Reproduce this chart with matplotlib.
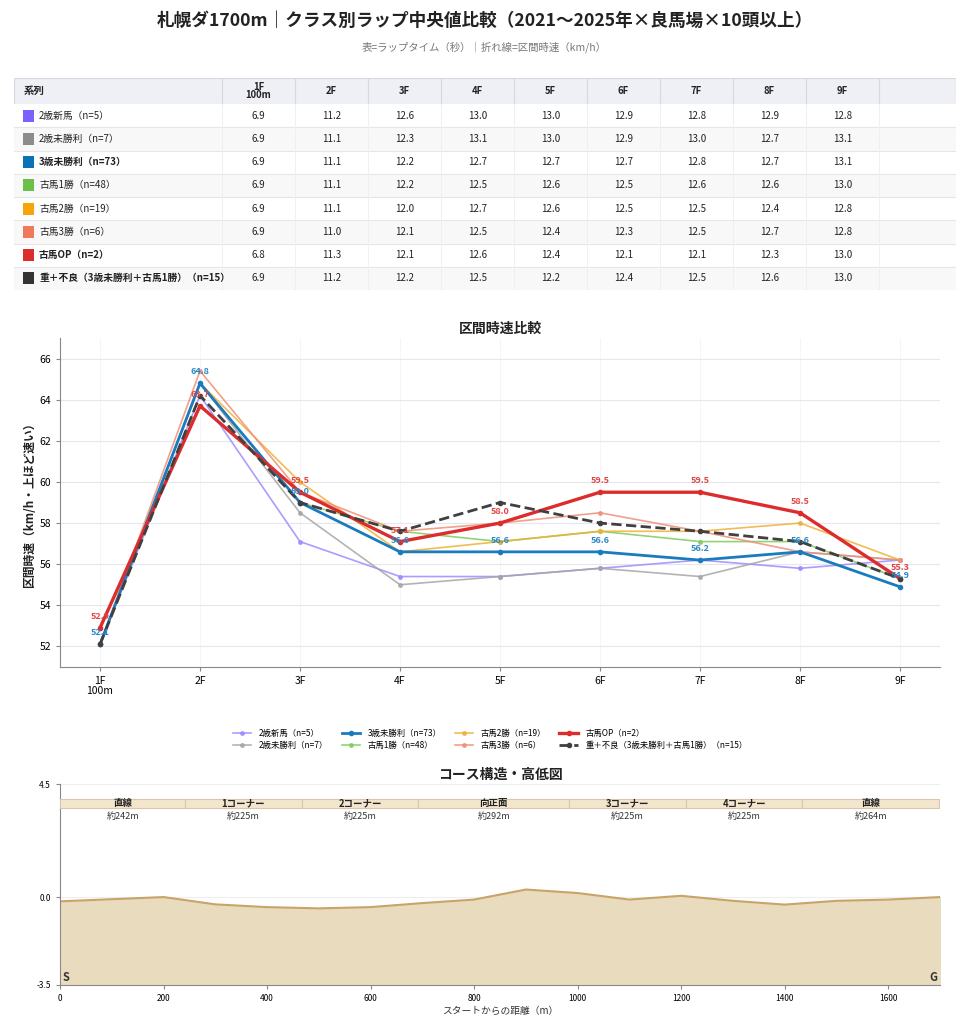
import numpy as np
import matplotlib
matplotlib.use("Agg")
import matplotlib.pyplot as plt
from matplotlib.patches import Rectangle

plt.rcParams['font.family'] = ['Noto Sans CJK JP', 'DejaVu Sans']

# ---- データ ----
series = ["2歳新馬（n=5）", "2歳未勝利（n=7）", "3歳未勝利（n=73）", "古馬1勝（n=48）",
          "古馬2勝（n=19）", "古馬3勝（n=6）", "古馬OP（n=2）",
          "重＋不良（3歳未勝利＋古馬1勝）（n=15）"]
furlongs = ["1F\n100m", "2F", "3F", "4F", "5F", "6F", "7F", "8F", "9F"]

# ラップタイム（秒）
lap_shinba = [6.9, 11.2, 12.6, 13.0, 13.0, 12.9, 12.8, 12.9, 12.8]
lap_2mishori = [6.9, 11.1, 12.3, 13.1, 13.0, 12.9, 13.0, 12.7, 13.1]
lap_3mishori = [6.9, 11.1, 12.2, 12.7, 12.7, 12.7, 12.8, 12.7, 13.1]
lap_1win = [6.9, 11.1, 12.2, 12.5, 12.6, 12.5, 12.6, 12.6, 13.0]
lap_2win = [6.9, 11.1, 12.0, 12.7, 12.6, 12.5, 12.5, 12.4, 12.8]
lap_3win = [6.9, 11.0, 12.1, 12.5, 12.4, 12.3, 12.5, 12.7, 12.8]
lap_op = [6.8, 11.3, 12.1, 12.6, 12.4, 12.1, 12.1, 12.3, 13.0]
lap_heavy = [6.9, 11.2, 12.2, 12.5, 12.2, 12.4, 12.5, 12.6, 13.0]

# 区間時速（km/h）
spd_shinba = [52.1, 64.2, 57.1, 55.4, 55.4, 55.8, 56.2, 55.8, 56.2]
spd_2mishori = [52.1, 64.8, 58.5, 55.0, 55.4, 55.8, 55.4, 56.6, 56.2]
spd_3mishori = [52.1, 64.8, 59.0, 56.6, 56.6, 56.6, 56.2, 56.6, 54.9]
spd_1win = [52.1, 64.8, 59.0, 57.6, 57.1, 57.6, 57.1, 57.1, 55.3]
spd_2win = [52.1, 64.8, 60.0, 56.6, 57.1, 57.6, 57.6, 58.0, 56.2]
spd_3win = [52.1, 65.4, 59.5, 57.6, 58.0, 58.5, 57.6, 56.6, 56.2]
spd_op = [52.9, 63.7, 59.5, 57.1, 58.0, 59.5, 59.5, 58.5, 55.3]
spd_heavy = [52.1, 64.2, 59.0, 57.6, 59.0, 58.0, 57.6, 57.1, 55.3]

laps = [lap_shinba, lap_2mishori, lap_3mishori, lap_1win, lap_2win, lap_3win, lap_op, lap_heavy]
speeds = [spd_shinba, spd_2mishori, spd_3mishori, spd_1win, spd_2win, spd_3win, spd_op, spd_heavy]

# コース
section_names = ["直線", "1コーナー", "2コーナー", "向正面", "3コーナー", "4コーナー", "直線"]
section_lengths = [242, 225, 225, 292, 225, 225, 264]
elev_dist = [0, 200, 300, 400, 500, 600, 700, 800, 900, 1000, 1100, 1200, 1300, 1400, 1500, 1600, 1700]
elev_h = [-0.17, 0.0, -0.29, -0.4, -0.45, -0.4, -0.24, -0.1, 0.3, 0.16, -0.1, 0.05, -0.15, -0.3, -0.15, -0.1, 0.0]

# スタイル
square_colors = ["#7b61ff", "#8c8c8c", "#0b72b5", "#6cc04a", "#f5a40a", "#ee7a5a", "#dd2c2c", "#333333"]
line_colors = ["#9b8cff", "#a6a6a6", "#1a7bbf", "#7fcc5c", "#f0b035", "#f08f77", "#dd2c2c", "#404040"]
bold_rows = [2, 6, 7]

fig = plt.figure(figsize=(9.69, 10.24), dpi=100)
fig.text(0.5, 0.980, "札幌ダ1700m｜クラス別ラップ中央値比較（2021～2025年×良馬場×10頭以上）",
         ha="center", va="center", fontsize=12.7, fontweight="bold", color="#222222")
fig.text(0.5, 0.954, "表=ラップタイム（秒）｜折れ線=区間時速（km/h）",
         ha="center", va="center", fontsize=7.5, color="#777777")

# ---- 表 ----
tax = fig.add_axes([14 / 969, (1024 - 290) / 1024, 942 / 969, 212 / 1024])
col_w = [208] + [73] * 9 + [77]
col_x = np.concatenate([[0], np.cumsum(col_w)])
head_h = 26
row_h = (212 - head_h) / len(series)
tax.set_xlim(0, col_x[-1])
tax.set_ylim(212, 0)
tax.axis("off")

tax.add_patch(Rectangle((0, 0), col_x[-1], head_h, facecolor="#eef0f5", edgecolor="#d5d8e0", lw=0.8))
for c in range(1, len(col_x) - 1):
    tax.plot([col_x[c], col_x[c]], [0, head_h], color="#d5d8e0", lw=0.8)
tax.text(10, head_h / 2, "系列", ha="left", va="center", fontsize=7.5, fontweight="bold", color="#222222")
for j, f in enumerate(furlongs):
    cx = (col_x[j + 1] + col_x[j + 2]) / 2
    tax.text(cx, head_h / 2, f, ha="center", va="center", fontsize=6.8, fontweight="bold",
             color="#222222", linespacing=0.85)

for i, name in enumerate(series):
    y0 = head_h + i * row_h
    fc = "#ffffff" if i % 2 == 0 else "#f8f8f8"
    tax.add_patch(Rectangle((0, y0), col_x[-1], row_h, facecolor=fc, edgecolor="none"))
    tax.plot([0, col_x[-1]], [y0 + row_h, y0 + row_h], color="#e6e6e6", lw=0.8)
    for c in range(1, len(col_x) - 1):
        tax.plot([col_x[c], col_x[c]], [y0, y0 + row_h], color="#eeeeee", lw=0.6)
    tax.add_patch(Rectangle((9, y0 + row_h / 2 - 6), 11, 12, facecolor=square_colors[i], edgecolor="none"))
    fw = "bold" if i in bold_rows else "normal"
    tax.text(25, y0 + row_h / 2, name, ha="left", va="center", fontsize=7, fontweight=fw, color="#222222")
    for j, v in enumerate(laps[i]):
        cx = (col_x[j + 1] + col_x[j + 2]) / 2
        tax.text(cx, y0 + row_h / 2, f"{v:.1f}", ha="center", va="center", fontsize=7, color="#222222")

# ---- 折れ線 ----
ax = fig.add_axes([60 / 969, (1024 - 667) / 1024, 880 / 969, 329 / 1024])
x = np.arange(len(furlongs))
handles = []
for i, name in enumerate(series):
    hi = i in bold_rows
    lw = 2.0 if hi else 1.2
    if i == 6:
        lw = 2.4
    alpha = 1.0 if hi else 0.85
    ls = "--" if i == 7 else "-"
    z = 4 if hi else 2
    h, = ax.plot(x, speeds[i], ls, color=line_colors[i], lw=lw, alpha=alpha, marker="o",
                 markersize=3 if hi else 2.5, label=name, zorder=z)
    handles.append(h)

for i, col in [(2, "#2a88c8"), (6, "#e04545")]:
    for xi, v in zip(x, speeds[i]):
        ax.annotate(f"{v:.1f}", (xi, v), xytext=(0, 5), textcoords="offset points",
                    ha="center", va="bottom", fontsize=6.5, fontweight="bold", color=col, zorder=6)

ax.set_xlim(-0.4, 8.4)
ax.set_ylim(51, 67)
ax.set_yticks(np.arange(52, 67, 2))
ax.set_xticks(x)
ax.set_xticklabels(furlongs, fontsize=7.5, linespacing=1.0)
ax.tick_params(axis="y", labelsize=7.5, length=3, color="#888888")
ax.tick_params(axis="x", length=3, color="#888888")
ax.grid(axis="y", color="#e6e6f0", lw=0.8)
ax.grid(axis="x", color="#f2f2f8", lw=0.6)
ax.set_axisbelow(True)
for s in ["top", "right"]:
    ax.spines[s].set_visible(False)
for s in ["left", "bottom"]:
    ax.spines[s].set_color("#888888")
ax.set_ylabel("区間時速（km/h・上ほど速い）", fontsize=8.5, fontweight="bold", color="#222222", labelpad=2)
ax.set_title("区間時速比較", fontsize=10, fontweight="bold", color="#222222", pad=4)

fig.legend(handles=handles, loc="center", bbox_to_anchor=(0.506, 0.278), ncol=4, frameon=False,
           fontsize=6, handlelength=2.2, columnspacing=1.6, labelspacing=0.3, handletextpad=0.9)

# ---- コース ----
cax = fig.add_axes([60 / 969, (1024 - 985) / 1024, 880 / 969, 201 / 1024])
cax.fill_between(elev_dist, elev_h, -3.5, color="#e9dbbd", zorder=1)
cax.plot(elev_dist, elev_h, color="#c9a46a", lw=1.5, zorder=2)
start = 0
for name, ln in zip(section_names, section_lengths):
    cax.add_patch(Rectangle((start, 3.55), ln, 0.37, facecolor="#f3e6cc", edgecolor="#d6c8ae", lw=0.8, zorder=3))
    cax.text(start + ln / 2, 3.74, name, ha="center", va="center", fontsize=6.8, fontweight="bold",
             color="#222222", zorder=4)
    cax.text(start + ln / 2, 3.22, f"約{ln}m", ha="center", va="center", fontsize=6.5,
             color="#333333", zorder=4)
    start += ln
cax.text(5, -3.2, "S", ha="left", va="center", fontsize=8, fontweight="bold", color="#333333")
cax.text(1695, -3.2, "G", ha="right", va="center", fontsize=8, fontweight="bold", color="#333333")
cax.set_xlim(0, 1700)
cax.set_ylim(-3.5, 4.5)
cax.set_yticks([-3.5, 0.0, 4.5])
cax.set_yticklabels(["-3.5", "0.0", "4.5"])
cax.set_xticks(np.arange(0, 1700, 200))
cax.tick_params(labelsize=6, length=3, color="#888888")
cax.grid(axis="y", color="#eeeeee", lw=0.8)
cax.set_axisbelow(True)
for s in ["top", "right"]:
    cax.spines[s].set_visible(False)
for s in ["left", "bottom"]:
    cax.spines[s].set_color("#888888")
cax.set_xlabel("スタートからの距離（m）", fontsize=7, color="#333333", labelpad=2)
cax.set_title("コース構造・高低図", fontsize=10, fontweight="bold", color="#222222", pad=4)

fig.savefig("out.png", dpi=100, facecolor="white")
